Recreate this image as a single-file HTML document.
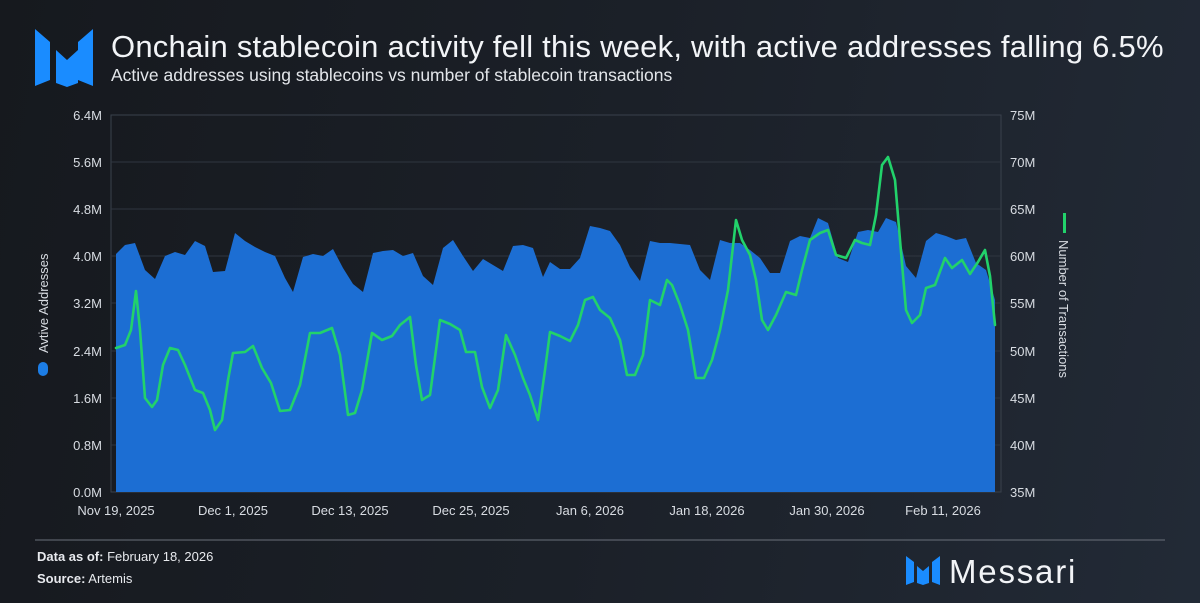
<!DOCTYPE html>
<html><head><meta charset="utf-8"><style>
html,body{margin:0;padding:0;}
body{width:1200px;height:603px;overflow:hidden;background:linear-gradient(100deg,#16191e 0%,#1b2028 50%,#222a36 100%);font-family:"Liberation Sans",sans-serif;}
</style></head><body>
<svg width="1200" height="603" viewBox="0 0 1200 603" xmlns="http://www.w3.org/2000/svg" style="position:absolute;left:0;top:0">
<g fill="#1a8cff">
<polygon points="35,29 50,42 50,80 35,86"/>
<polygon points="56,50 67,60 78,50 78,83 67,87 56,83"/>
<polygon points="93,29 78,42 78,80 93,86"/>
</g>
<text x="111" y="57" fill="#f2f4f7" font-size="31" font-weight="500" letter-spacing="0.22">Onchain stablecoin activity fell this week, with active addresses falling 6.5%</text>
<text x="111" y="81" fill="#e3e6ea" font-size="17.5">Active addresses using stablecoins vs number of stablecoin transactions</text>
<rect x="111" y="115" width="890" height="377" fill="none" stroke="#3a414c" stroke-width="1"/>
<g stroke="#2f3640" stroke-width="1">
<line x1="111" y1="162" x2="1001" y2="162"/><line x1="111" y1="209" x2="1001" y2="209"/>
<line x1="111" y1="256" x2="1001" y2="256"/><line x1="111" y1="303" x2="1001" y2="303"/>
<line x1="111" y1="351" x2="1001" y2="351"/><line x1="111" y1="398" x2="1001" y2="398"/>
<line x1="111" y1="445" x2="1001" y2="445"/>
</g>
<polygon fill="#1c6ed3" points="116,492 116,254 125,245 135,243 145,270 155,279 165,256 175,252 185,255 195,241 205,246 213,272 225,271 235,233 245,241 255,247 265,252 275,256 285,278 293,292 303,257 313,254 323,256 333,249 343,268 353,284 363,292 373,253 383,251 393,250 403,256 413,253 423,276 433,285 443,248 453,240 463,256 473,271 483,259 493,265 503,271 513,246 523,245 533,248 543,277 550,262 560,269 570,269 580,258 590,226 600,228 610,231 620,245 630,267 640,281 650,241 660,243 670,243 680,244 690,245 700,270 710,280 720,240 730,243 740,243 750,250 760,258 770,273 780,273 790,241 800,236 810,238 818,218 828,223 838,258 848,262 858,232 868,230 878,232 886,218 896,222 906,266 916,278 926,241 936,233 946,236 956,240 966,238 976,263 986,270 995,300 995,492"/>
<polyline fill="none" stroke="#22d26b" stroke-width="2.6" stroke-linejoin="round" stroke-linecap="round" points="116,348 125,345 131,330 136,291 140,330 145,398 152,407 157,400 163,365 170,348 178,350 185,365 195,390 203,393 210,410 215,430 222,420 228,380 233,353 245,352 253,346 262,368 271,383 280,411 290,410 300,385 310,333 320,333 332,328 340,355 348,415 355,413 362,390 372,333 382,340 392,336 400,325 410,317 416,365 422,400 430,395 440,320 450,324 460,330 466,352 475,352 482,387 490,408 498,390 506,335 515,355 523,378 530,395 538,420 545,370 550,332 560,336 570,341 578,325 585,300 593,297 600,310 610,318 620,340 627,375 635,375 643,355 650,300 660,305 667,280 672,285 680,305 688,330 696,378 704,378 712,360 720,330 728,290 736,220 742,240 750,255 756,280 762,320 768,330 776,315 786,292 796,295 802,270 810,240 820,233 828,230 836,255 846,258 855,240 862,243 870,245 876,215 882,165 888,157 895,180 900,240 906,310 912,323 920,315 926,288 935,285 945,258 952,268 962,260 970,274 978,262 985,250 990,276 995,325"/>
<g fill="#d8dce2" font-size="13" text-anchor="end">
<text x="102" y="120">6.4M</text><text x="102" y="167">5.6M</text><text x="102" y="214">4.8M</text>
<text x="102" y="261">4.0M</text><text x="102" y="308">3.2M</text><text x="102" y="356">2.4M</text>
<text x="102" y="403">1.6M</text><text x="102" y="450">0.8M</text><text x="102" y="497">0.0M</text>
</g>
<g fill="#d8dce2" font-size="13">
<text x="1010" y="120">75M</text><text x="1010" y="167">70M</text><text x="1010" y="214">65M</text>
<text x="1010" y="261">60M</text><text x="1010" y="308">55M</text><text x="1010" y="356">50M</text>
<text x="1010" y="403">45M</text><text x="1010" y="450">40M</text><text x="1010" y="497">35M</text>
</g>
<g fill="#d8dce2" font-size="13" text-anchor="middle">
<text x="116" y="515">Nov 19, 2025</text><text x="233" y="515">Dec 1, 2025</text>
<text x="350" y="515">Dec 13, 2025</text><text x="471" y="515">Dec 25, 2025</text>
<text x="590" y="515">Jan 6, 2026</text><text x="707" y="515">Jan 18, 2026</text>
<text x="827" y="515">Jan 30, 2026</text><text x="943" y="515">Feb 11, 2026</text>
</g>
<rect x="38" y="362" width="10" height="14" rx="5" fill="#1c7de6"/>
<text transform="translate(48,353) rotate(-90)" fill="#d8dce2" font-size="13">Avtive Addresses</text>
<rect x="1063" y="213" width="3" height="20" fill="#22d26b"/>
<text transform="translate(1059,240) rotate(90)" fill="#d8dce2" font-size="13">Number of Transactions</text>
<line x1="35" y1="540" x2="1165" y2="540" stroke="#6a707a" stroke-width="1"/>
<text x="37" y="561" fill="#e8eaee" font-size="13"><tspan font-weight="bold">Data as of:</tspan> February 18, 2026</text>
<text x="37" y="583" fill="#e8eaee" font-size="13"><tspan font-weight="bold">Source:</tspan> Artemis</text>
<g fill="#1a8cff">
<polygon points="906,556 914,562 914,582 906,585"/>
<polygon points="917,566 923,571 929,566 929,583 923,585 917,583"/>
<polygon points="940,556 932,562 932,582 940,585"/>
</g>
<text x="949" y="583" fill="#f2f4f7" font-size="33" font-weight="500" letter-spacing="1.8">Messari</text>
</svg>
</body></html>
